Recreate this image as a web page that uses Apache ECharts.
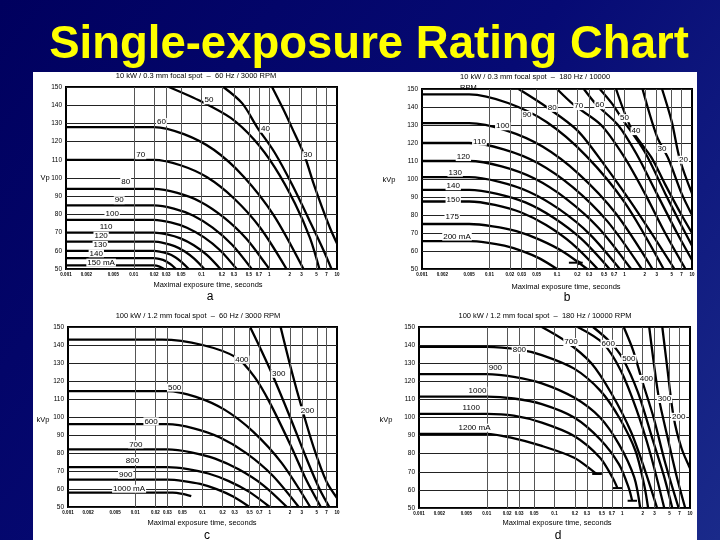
<!DOCTYPE html>
<html><head><meta charset="utf-8">
<script src="https://cdn.jsdelivr.net/npm/echarts@6/dist/echarts.min.js"></script>
<style>html,body{margin:0;padding:0;background:#000068;}#c{width:720px;height:540px;}</style>
</head><body><div id="c"></div>
<script>
// ---------- data ----------
const timeTicks = [0.001,0.002,0.005,0.01,0.02,0.03,0.05,0.1,0.2,0.3,0.5,0.7,1,2,3,5,7,10];
const timeTickLabels = ['0.001','0.002','0.005','0.01','0.02','0.03','0.05','0.1','0.2','0.3','0.5','0.7','1','2','3','5','7','10'];
const kvpRange = [50, 150];
const mainTitle = 'Single-exposure Rating Chart';
const panelTitles = [
  '10 kW / 0.3 mm focal spot  \u2013  60 Hz / 3000 RPM',
  '10 kW / 0.3 mm focal spot  \u2013  180 Hz / 10000\nRPM',
  '100 kW / 1.2 mm focal spot  \u2013  60 Hz / 3000 RPM',
  '100 kW / 1.2 mm focal spot  \u2013  180 Hz / 10000 RPM'
];
const panelLetters = ['a','b','c','d'];
const yNames = ['Vp','kVp','kVp','kVp'];
const xName = 'Maximal exposure time, seconds';

// panel a: [time s, kVp]
const curvesA = [
  [[0.001,52],[0.015,52],[0.02,52],[0.024,51.3],[0.028,50]],
  [[0.001,56],[0.015,56],[0.02,56],[0.027,55],[0.031,53.9],[0.036,52.3],[0.042,50]],
  [[0.001,60],[0.015,60],[0.02,60],[0.032,58.4],[0.041,56.5],[0.051,53.8],[0.065,50]],
  [[0.001,65],[0.015,65],[0.02,65],[0.028,64.2],[0.04,62.6],[0.056,59.8],[0.078,55.7],[0.11,50]],
  [[0.001,70],[0.015,70],[0.02,70],[0.031,69],[0.049,66.8],[0.077,63],[0.121,57.6],[0.19,50]],
  [[0.001,77],[0.015,77],[0.02,77],[0.035,75.6],[0.061,72.7],[0.108,67.5],[0.188,60.3],[0.33,50]],
  [[0.001,85],[0.015,85],[0.02,85],[0.039,83.2],[0.075,79.4],[0.146,72.7],[0.283,63.3],[0.55,50]],
  [[0.001,94],[0.015,94],[0.02,94],[0.044,91.8],[0.096,87],[0.209,78.6],[0.457,66.7],[1.0,50]],
  [[0.001,110],[0.015,110],[0.02,110],[0.049,107],[0.121,100.4],[0.297,89],[0.731,72.8],[1.8,50]],
  [[0.001,128],[0.015,128],[0.02,128],[0.055,124.1],[0.152,115.5],[0.42,100.7],[1.16,79.6],[3.2,50]],
  [[0.033,150],[0.1,142],[0.27,133],[0.6,121],[1.2,106],[2.4,86],[4,67],[5.5,50]],
  [[0.21,150],[0.4,141],[0.66,128],[1.2,114],[2.2,96],[4,76],[6.2,61],[8.3,50]],
  [[1.1,150],[1.6,138],[2.2,127],[3.3,112.5],[4.5,97],[6,84],[8,72],[10,64]]
];
const labelsA = [[0.129,142.7,'50'],[0.88,127.1,'40'],[3.7,112.5,'30'],[0.0256,130.8,'60'],[0.0127,112.5,'70'],[0.0076,97.9,'80'],[0.0061,87.8,'90'],[0.0048,80.2,'100'],[0.0039,73.2,'110'],[0.0033,68.3,'120'],[0.0032,63.2,'130'],[0.0028,58.6,'140'],[0.0033,53.5,'150 mA']];

const curvesB = [
  [[0.001,65.5],[0.0038,65.5],[0.005,65.5],[0.0091,64.7],[0.0166,63],[0.03,60.1],[0.055,55.9],[0.1,50]],
  [[0.001,75],[0.0038,75],[0.005,75],[0.0112,73.7],[0.025,71],[0.056,66.2],[0.125,59.5],[0.28,50]],
  [[0.001,87.5],[0.0038,87.5],[0.005,87.5],[0.012,85.6],[0.029,81.5],[0.069,74.4],[0.166,64.2],[0.4,50]],
  [[0.001,94],[0.0038,94],[0.005,94],[0.013,91.8],[0.034,87],[0.088,78.6],[0.23,66.7],[0.6,50]],
  [[0.001,101],[0.0038,101],[0.005,101],[0.014,98.4],[0.039,92.8],[0.109,83.1],[0.304,69.4],[0.85,50]],
  [[0.001,110],[0.0038,110],[0.005,110],[0.0151,107],[0.0455,100.4],[0.137,89],[0.414,72.8],[1.25,50]],
  [[0.001,120],[0.0038,120],[0.005,120],[0.0162,116.5],[0.0526,108.8],[0.171,95.5],[0.555,76.6],[1.8,50]],
  [[0.001,131],[0.0038,131],[0.005,131],[0.0175,127],[0.061,118],[0.213,102.6],[0.745,80.8],[2.6,50]],
  [[0.001,147],[0.0038,147],[0.005,147],[0.0188,142.2],[0.071,131.5],[0.268,113],[1.01,86.9],[3.8,50]],
  [[0.027,150],[0.07,140],[0.2,127],[0.5,108],[1.2,88],[2.5,70],[5.5,50]],
  [[0.1,150],[0.18,141],[0.45,130],[1,112],[2,92],[4,70],[8,50]],
  [[0.25,150],[0.38,141.5],[0.8,130],[1.5,114],[3,92],[6,70],[10,55]],
  [[0.43,150],[0.65,142],[0.9,134],[2,115],[4,92],[7,74],[10,63]],
  [[0.75,150],[1.3,127],[2.5,112],[4,97],[7,80],[10,70]],
  [[1.85,150],[3,124],[4.5,111],[7,92],[10,80]],
  [[3.6,150],[5,132],[6.6,111],[10,92]]
];
const labelsB = [[0.0033,68,'200 mA'],[0.0028,78.8,'175'],[0.0029,88.4,'150'],[0.0029,96,'140'],[0.0031,103.5,'130'],[0.0041,112.2,'120'],[0.0071,120.8,'110'],[0.0157,129.3,'100'],[0.036,135.6,'90'],[0.085,139.5,'80'],[0.21,140.5,'70'],[0.43,141,'60'],[1.0,133.8,'50'],[1.48,126.6,'40'],[3.6,116.7,'30'],[7.5,110.7,'20']];
const arrowB = [[0.15,53.5],[0.24,53.5]];

const curvesC = [
  [[0.001,58],[0.03,58],[0.036,58],[0.05,57.3],[0.068,56]],
  [[0.001,65.2],[0.022,65.2],[0.03,65.2],[0.0526,64.4],[0.0924,62.8],[0.162,59.9],[0.285,55.8],[0.5,50]],
  [[0.001,72.2],[0.022,72.2],[0.03,72.2],[0.0605,71.1],[0.122,68.6],[0.246,64.4],[0.496,58.4],[1.0,50]],
  [[0.001,82],[0.022,82],[0.03,82],[0.068,80.4],[0.154,76.9],[0.35,70.8],[0.794,62.2],[1.8,50]],
  [[0.001,96],[0.022,96],[0.03,96],[0.0738,93.7],[0.182,88.6],[0.447,79.9],[1.1,67.5],[2.7,50]],
  [[0.001,114.4],[0.022,114.4],[0.03,114.4],[0.0798,111.2],[0.212,104.1],[0.565,91.9],[1.5,74.5],[4,50]],
  [[0.001,143],[0.018,143],[0.025,143],[0.1,140],[0.32,133],[0.6,122],[1.0,108],[2,85],[3.5,65],[5.75,50]],
  [[0.51,150],[0.75,137],[1.08,124],[2,100],[3.6,76],[5.5,60],[7.7,50]],
  [[1.45,150],[2.1,126],[3.05,104],[4.6,82],[7,64],[10,55]]
];
const labelsC = [[0.385,131.9,'400'],[1.36,124,'300'],[3.63,103.7,'200'],[0.0385,116.3,'500'],[0.0172,97.6,'600'],[0.0102,84.8,'700'],[0.0091,75.6,'800'],[0.0072,68,'900'],[0.0081,60.2,'1000 mA']];

const curvesD = [
  [[0.001,91],[0.0075,91],[0.01,91],[0.022,89],[0.065,84.3],[0.195,77.8],[0.37,70.4],[0.42,68.8]],
  [[0.001,102],[0.0075,102],[0.01,102],[0.025,101],[0.065,97.2],[0.195,89.8],[0.47,77.8],[0.72,66.7],[0.85,61]],
  [[0.001,111.5],[0.0075,111.5],[0.01,111.5],[0.025,110.5],[0.065,107.4],[0.195,100],[0.47,88],[0.9,74],[1.25,61],[1.4,54]],
  [[0.001,124],[0.0075,124],[0.01,124],[0.025,122.5],[0.065,118.9],[0.195,111],[0.47,100],[0.9,85],[1.5,67],[1.84,50]],
  [[0.001,139],[0.0075,139],[0.01,139],[0.03,137.5],[0.065,134.5],[0.195,127],[0.47,115],[0.9,100],[1.57,81.5],[2.1,63],[2.41,50]],
  [[0.065,150],[0.148,142],[0.35,130],[0.7,113],[1.35,92],[2.2,70],[3.27,50]],
  [[0.22,150],[0.52,141],[0.95,126],[1.6,105],[2.6,80],[4.17,50]],
  [[0.37,150],[0.65,142],[1.0,133],[1.7,114],[2.8,88],[4.1,68],[5.48,50]],
  [[1.05,150],[1.45,137],[1.94,121],[2.9,100],[4.3,75],[6.8,50]],
  [[2.5,150],[2.9,131],[3.5,110],[4.6,90],[6.3,68],[8.5,50]],
  [[3.9,150],[4.6,128],[5.75,100],[7.5,83],[10,72]]
];
const labelsD = [[0.0303,137.4,'800'],[0.0134,127.4,'900'],[0.0073,114.8,'1000'],[0.0059,105.2,'1100'],[0.0066,94.4,'1200 mA'],[0.175,141.7,'700'],[0.62,140.7,'600'],[1.25,132.4,'500'],[2.27,121.3,'400'],[4.2,110.2,'300'],[6.8,100.4,'200']];
const endBarsD = [[[0.36,68.8],[0.5,68.8]],[[0.72,61],[1.0,61]],[[1.2,54],[1.65,54]]];

// ---------- layout ----------
const FONT = '"Liberation Sans", Arial, sans-serif';
const grids = [
  {left:66, top:87, width:271, height:182},
  {left:422, top:89, width:270, height:180},
  {left:68, top:327, width:269, height:180},
  {left:419, top:327, width:271, height:181}
];
const allCurves = [curvesA, curvesB, curvesC, curvesD];
const allLabels = [labelsA, labelsB, labelsC, labelsD];

function fmtTime(v){
  for (let i=0;i<timeTicks.length;i++){
    if (Math.abs(Math.log10(v)-Math.log10(timeTicks[i]))<1e-6) return timeTickLabels[i];
  }
  return '';
}

const xAxes = grids.map((g,i)=>({
  type:'log', logBase:10, gridIndex:i, min:timeTicks[0], max:timeTicks[timeTicks.length-1],
  axisLine:{show:false}, axisTick:{show:false}, splitLine:{show:false}, minorSplitLine:{show:false},
  axisLabel:{customValues:timeTicks, formatter:fmtTime, interval:0, hideOverlap:false,
    fontSize:4.5, color:'#000', margin:3, fontFamily:FONT, fontWeight:'bold'}
}));
const yAxes = grids.map((g,i)=>({
  type:'value', gridIndex:i, min:kvpRange[0], max:kvpRange[1], interval:10,
  axisLine:{show:false}, axisTick:{show:false},
  splitLine:{show:true, lineStyle:{color:'#222', width:1}},
  axisLabel:{fontSize:6.5, color:'#000', margin:4, fontFamily:FONT}
}));

const series = [];
allCurves.forEach((cs,i)=>{
  series.push({type:'line', xAxisIndex:i, yAxisIndex:i, data:[[timeTicks[0],kvpRange[0]]],
    symbol:'none', lineStyle:{opacity:0}, silent:true, z:1,
    markLine:{silent:true, symbol:['none','none'], label:{show:false}, animation:false,
      lineStyle:{color:'#555', width:1, type:'solid'},
      data: timeTicks.slice(1,-1).map(v=>({xAxis:v}))}
  });
  cs.forEach(pts=>{
    series.push({type:'line', xAxisIndex:i, yAxisIndex:i, data:pts, smooth:0.3,
      symbol:'none', showSymbol:false, silent:true, z:3,
      lineStyle:{color:'#000', width:2.3}});
  });
  series.push({type:'scatter', xAxisIndex:i, yAxisIndex:i, symbolSize:1, silent:true, z:5,
    itemStyle:{color:'#ffffff', opacity:1},
    data: allLabels[i].map(l=>({value:[l[0],l[1]], name:l[2]})),
    label:{show:true, position:'inside', formatter:'{b}', fontSize:8, color:'#000000',
      textBorderWidth:0, fontFamily:FONT, backgroundColor:'#fff', padding:[0,1]}
  });
});
series.push({type:'line', xAxisIndex:1, yAxisIndex:1, data:arrowB,
  symbol:(v,p)=> p.dataIndex===1 ? 'arrow' : 'none', symbolRotate:-90,
  symbolSize:[5,6], showSymbol:true, showAllSymbol:true, silent:true, z:4,
  lineStyle:{color:'#000', width:2}, itemStyle:{color:'#000'}});
endBarsD.forEach(b=>{
  series.push({type:'line', xAxisIndex:3, yAxisIndex:3, data:b, symbol:'none', silent:true, z:4,
    lineStyle:{color:'#000', width:2}});
});

function txt(x,y,text,size,opts){
  return Object.assign({type:'text', x:x, y:y, z:10, silent:true,
    style:Object.assign({text:text, fill:'#000', fontSize:size, fontFamily:FONT,
      align:'center', verticalAlign:'middle'}, opts||{})});
}

const graphics = [
  {type:'rect', z:-10, silent:true, shape:{x:33, y:72, width:664, height:468}, style:{fill:'#ffffff'}},
  txt(369, 45, mainTitle, 45.5, {fill:'#ffff00', fontWeight:'bold'}),
  txt(196, 76, panelTitles[0], 7.5),
  txt(460, 82, panelTitles[1], 7.5, {align:'left', lineHeight:11}),
  txt(198, 316, panelTitles[2], 7.5),
  txt(545, 316, panelTitles[3], 7.5),
  txt(208, 285, xName, 7.5),
  txt(566, 287, xName, 7.5),
  txt(202, 523, xName, 7.5),
  txt(557, 523, xName, 7.5),
  txt(210, 297, panelLetters[0], 12),
  txt(567, 298, panelLetters[1], 12),
  txt(207, 536, panelLetters[2], 12),
  txt(558, 536, panelLetters[3], 12),
  txt(45, 178, yNames[0], 7.5),
  txt(389, 180, yNames[1], 7.5),
  txt(43, 420, yNames[2], 7.5),
  txt(386, 420, yNames[3], 7.5)
];

const chart = echarts.init(document.getElementById('c'));
chart.setOption({
  animation:false,
  backgroundColor:{type:'linear', x:0, y:0, x2:1, y2:1,
    colorStops:[{offset:0,color:'#00005e'},{offset:0.5,color:'#060a74'},{offset:1,color:'#1a2a8a'}]},
  grid: grids.map(g=>Object.assign({show:true, borderColor:'#000', borderWidth:2, backgroundColor:'transparent'}, g)),
  xAxis:xAxes, yAxis:yAxes, series:series, graphic:graphics
});
</script></body></html>
